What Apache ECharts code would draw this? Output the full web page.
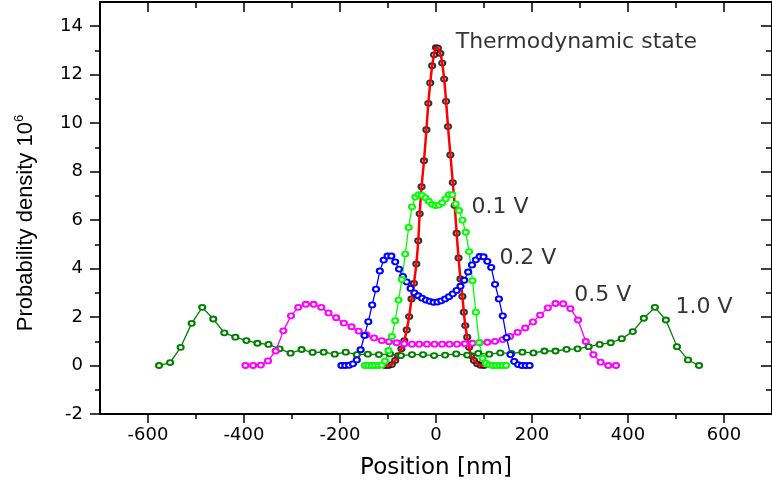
<!DOCTYPE html>
<html>
<head>
<meta charset="utf-8">
<script src="https://cdn.jsdelivr.net/npm/echarts@6/dist/echarts.min.js"></script>
<style>
  html, body { margin: 0; padding: 0; background: #fff; }
  #chart { width: 772px; height: 487px; }
</style>
</head>
<body>
<div id="chart"></div>
<script>
// tick positions
const xMajorTicks = [-600, -400, -200, 0, 200, 400, 600];
const xMinorTicks = [-500, -300, -100, 100, 300, 500];
const yMajorTicks = [-2, 0, 2, 4, 6, 8, 10, 12, 14];
const yMinorTicks = [-1, 1, 3, 5, 7, 9, 11, 13];

// thermodynamic state (black points, red fit)
const posThermo = [-106, -99, -92, -85, -79, -72, -66, -61, -56, -51, -46, -41, -37, -34, -30, -25, -20, -16, -12, -8, -4, 0,
  4, 9, 13, 17, 21, 25, 30, 35, 39, 43, 47, 51, 55, 58, 61, 65, 69, 73, 79, 86, 93, 100];
const valThermo = [0.00, 0.00, 0.04, 0.21, 0.41, 0.69, 1.03, 1.47, 2.02, 2.75, 3.39, 4.19, 5.15, 6.26, 7.38, 8.45, 9.73, 10.82, 11.66, 12.37, 12.82, 13.12,
  13.10, 12.88, 12.48, 11.82, 10.90, 9.86, 8.69, 7.55, 6.60, 5.46, 4.44, 3.57, 2.85, 2.20, 1.65, 1.17, 0.75, 0.41, 0.21, 0.07, 0.01, 0.00];

// 0.1 V
const pos01 = [-148, -141, -134, -127, -120, -113, -106, -99, -92, -85, -78, -71, -64, -57, -50, -43, -36, -29, -22, -15, -8, -1,
  6, 13, 20, 27, 34, 41, 48, 55, 62, 69, 76, 83, 90, 97, 104, 111, 118, 125, 132, 139, 146];
const val01 = [0.00, 0.00, 0.00, 0.00, 0.00, 0.02, 0.18, 0.62, 1.20, 1.85, 2.70, 3.55, 4.60, 5.70, 6.55, 6.95, 7.05, 7.02, 6.92, 6.78, 6.65, 6.60,
  6.62, 6.72, 6.88, 7.05, 7.05, 6.67, 6.40, 6.00, 5.50, 4.70, 3.50, 2.20, 0.95, 0.30, 0.10, 0.03, 0.00, 0.00, 0.00, 0.00, 0.00];

// 0.2 V
const pos02 = [-197, -189, -181, -173, -165, -157, -149, -141, -133, -125, -117, -109, -101, -93, -85, -77, -69, -61, -53, -45, -37, -29, -21, -13, -5,
  3, 11, 19, 27, 35, 43, 51, 59, 67, 75, 83, 91, 99, 107, 115, 123, 131, 139, 147, 155, 163, 171, 179, 187, 195];
const val02 = [0.00, 0.00, 0.01, 0.07, 0.23, 0.65, 1.24, 1.81, 2.50, 3.15, 3.90, 4.35, 4.52, 4.52, 4.28, 3.98, 3.68, 3.45, 3.18, 3.00, 2.88, 2.78, 2.70, 2.65, 2.61,
  2.62, 2.67, 2.75, 2.84, 2.96, 3.10, 3.27, 3.52, 3.86, 4.15, 4.36, 4.50, 4.49, 4.30, 4.05, 3.35, 2.75, 2.05, 1.15, 0.45, 0.17, 0.04, 0.00, 0.00, 0.00];

// 0.5 V
const pos05 = [-397, -381, -365, -350, -334, -318, -302, -287, -271, -255, -239, -224, -208, -192, -176, -161, -145, -129, -113, -98, -82, -66, -50, -35, -19,
  -3, 13, 28, 44, 60, 76, 91, 107, 123, 139, 154, 170, 186, 202, 217, 233, 249, 265, 280, 296, 312, 328, 343, 359, 375];
const val05 = [0.00, 0.00, 0.02, 0.19, 0.60, 1.43, 2.05, 2.40, 2.53, 2.53, 2.40, 2.17, 1.97, 1.75, 1.60, 1.42, 1.27, 1.14, 1.03, 0.98, 0.94, 0.90, 0.88, 0.88, 0.88,
  0.88, 0.88, 0.88, 0.88, 0.90, 0.92, 0.94, 0.96, 1.00, 1.07, 1.20, 1.37, 1.55, 1.80, 2.08, 2.38, 2.56, 2.55, 2.35, 1.88, 0.99, 0.45, 0.14, 0.00, 0.00];

// 1.0 V
const pos10 = [-577, -554, -532, -509, -487, -464, -441, -418, -395, -372, -349, -326, -303, -280, -257, -234, -211, -188, -165, -142, -119, -96, -73, -50, -27,
  -4, 19, 42, 65, 88, 111, 134, 157, 180, 203, 226, 249, 272, 295, 318, 341, 364, 387, 410, 433, 456, 479, 502, 525, 548];
const val10 = [0.00, 0.12, 0.75, 1.74, 2.40, 1.92, 1.35, 1.17, 1.03, 0.92, 0.87, 0.69, 0.51, 0.66, 0.54, 0.55, 0.47, 0.55, 0.45, 0.47, 0.45, 0.48, 0.41, 0.45, 0.45,
  0.41, 0.43, 0.48, 0.43, 0.50, 0.47, 0.52, 0.50, 0.55, 0.52, 0.60, 0.60, 0.67, 0.69, 0.78, 0.87, 0.94, 1.11, 1.40, 1.95, 2.40, 1.88, 0.78, 0.23, 0.00];

// text notes, anchored in data units
const notes = [
  ['Thermodynamic state', 40, 13.35],
  ['0.1 V', 73, 6.53],
  ['0.2 V', 131, 4.43],
  ['0.5 V', 287, 2.91],
  ['1.0 V', 498, 2.42]
];

const textFont = 'DejaVu Sans';

function pairs(xs, ys) {
  return xs.map((x, i) => [x, ys[i]]);
}

function curve(name, xs, ys, color) {
  return {
    name: name,
    type: 'line',
    data: pairs(xs, ys),
    symbol: 'emptyCircle',
    symbolSize: [6, 5],
    lineStyle: {color: color, width: 1.3},
    itemStyle: {color: color, borderWidth: 1.5},
    emphasis: {disabled: true}
  };
}

function tickAxis(pos, values, length, inside, extra) {
  let isX = pos == 'top' || pos == 'bottom';
  return Object.assign({
    type: 'value',
    position: pos,
    min: isX ? -700 : -2,
    max: isX ? 700 : 15,
    silent: true,
    splitLine: {show: false},
    axisLine: {show: false, onZero: false},
    axisTick: {show: true, inside: inside, length: length, customValues: values, lineStyle: {color: '#000', width: 1.5}},
    axisLabel: {show: false}
  }, extra || {});
}

const chart = echarts.init(document.getElementById('chart'));

chart.setOption({
  animation: false,
  backgroundColor: '#fff',
  grid: {left: 100, right: -5, top: 2, bottom: 73},
  xAxis: [
    tickAxis('bottom', xMajorTicks, 9, false, {
      axisLine: {show: true, onZero: false, lineStyle: {color: '#000', width: 2}},
      axisLabel: {show: true, customValues: xMajorTicks, margin: 12, color: '#000', fontFamily: textFont, fontSize: 18},
      name: 'Position [nm]',
      nameLocation: 'middle',
      nameGap: 43,
      nameTextStyle: {color: '#000', fontFamily: textFont, fontSize: 23}
    }),
    tickAxis('bottom', xMinorTicks, 5, false),
    tickAxis('top', xMajorTicks, 10, true, {
      axisLine: {show: true, onZero: false, lineStyle: {color: '#000', width: 2}}
    }),
    tickAxis('top', xMinorTicks, 6, true)
  ],
  yAxis: [
    tickAxis('left', yMajorTicks, 10, false, {
      axisLine: {show: true, onZero: false, lineStyle: {color: '#000', width: 2}},
      axisLabel: {show: true, customValues: yMajorTicks, margin: 17, color: '#000', fontFamily: textFont, fontSize: 18},
      name: 'Probability density 10{sup|6}',
      nameLocation: 'middle',
      nameRotate: 90,
      nameGap: 62,
      nameTextStyle: {
        color: '#000', fontFamily: 'Liberation Sans', fontSize: 22, padding: [0, 30, 0, 0],
        rich: {sup: {color: '#000', fontFamily: 'Liberation Sans', fontSize: 13, padding: [0, 0, 12, 0]}}
      }
    }),
    tickAxis('left', yMinorTicks, 5, false),
    tickAxis('right', yMajorTicks, 11, true, {
      axisLine: {show: true, onZero: false, lineStyle: {color: '#000', width: 2}}
    }),
    tickAxis('right', yMinorTicks, 6, true)
  ],
  series: [
    curve('1.0 V', pos10, val10, '#008000'),
    curve('0.5 V', pos05, val05, '#ff00ff'),
    curve('0.2 V', pos02, val02, '#0000ff'),
    curve('0.1 V', pos01, val01, '#00ff00'),
    {
      name: 'Thermodynamic state',
      type: 'scatter',
      data: pairs(posThermo, valThermo),
      symbol: 'emptyCircle',
      symbolSize: [6, 5],
      itemStyle: {color: '#000', borderWidth: 1.5},
      emphasis: {disabled: true}
    },
    {
      name: 'fit',
      type: 'line',
      data: pairs(posThermo, valThermo),
      smooth: 0.3,
      symbol: 'none',
      lineStyle: {color: '#ff0000', width: 2.5},
      emphasis: {disabled: true}
    },
    {
      name: 'notes',
      type: 'scatter',
      data: notes.map(n => ({name: n[0], value: [n[1], n[2]]})),
      symbolSize: 1,
      itemStyle: {color: 'rgba(0,0,0,0)'},
      label: {show: true, position: 'right', distance: 0, formatter: '{b}', color: '#000', fontFamily: textFont, fontSize: 22},
      silent: true
    }
  ]
});
</script>
</body>
</html>
